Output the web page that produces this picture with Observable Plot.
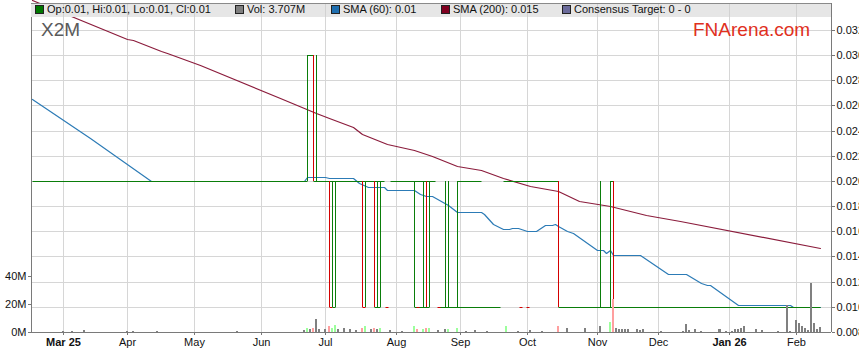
<!DOCTYPE html>
<html><head><meta charset="utf-8">
<script src="https://cdn.jsdelivr.net/npm/d3@7"></script>
<script src="https://cdn.jsdelivr.net/npm/@observablehq/plot@0.6"></script>
<style>
body{margin:0;background:#fff;font-family:"Liberation Sans",Arial,sans-serif;}
#wrap{position:relative;width:859px;height:363px;overflow:hidden;}
#wrap svg{position:absolute;left:0;top:0;}
#legend{position:absolute;left:31px;top:3px;width:801px;height:14px;background:#e6e6e6;border-top:1px solid #8a8a8a;box-sizing:border-box;}
.li{position:absolute;top:0px;font-size:11px;line-height:13px;color:#111;white-space:nowrap;}
.sw{position:absolute;top:2px;width:7px;height:7px;border:1px solid #222;}
#code{position:absolute;left:41px;top:19px;font-size:19px;color:#5a5a5a;}
#brand{position:absolute;left:693px;top:19px;font-size:19px;color:#e0301e;}
</style></head>
<body><div id="wrap"></div>
<script>
// ---------- data ----------
const tickDates = ["2025-03-03","2025-04-01","2025-05-01","2025-06-02","2025-07-01","2025-08-01","2025-09-01","2025-10-01","2025-11-03","2025-12-01","2026-01-01","2026-02-02"];
const tickLabels = ["Mar 25","Apr","May","Jun","Jul","Aug","Sep","Oct","Nov","Dec","Jan 26","Feb"];
const boldLabels = ["Mar 25","Jan 26"];
const priceTicks = [0.008,0.010,0.012,0.014,0.016,0.018,0.020,0.022,0.024,0.026,0.028,0.030,0.032];
const volTicks = [0, 20, 40]; // millions

// horizontal price levels (runs of daily open/close ticks): [from, to, price, direction]
const priceLevels = [
  ["2025-02-17","2025-06-23",0.02,"up"],
  ["2025-06-23","2025-06-25",0.03,"up"],
  ["2025-06-25","2025-07-28",0.02,"up"],
  ["2025-07-30","2025-08-20",0.02,"up"],
  ["2025-08-29","2025-09-10",0.02,"up"],
  ["2025-09-19","2025-10-15",0.02,"up"],
  ["2025-11-07","2025-11-10",0.02,"up"],
  ["2025-07-02","2025-07-03",0.01,"down"],
  ["2025-07-03","2025-07-04",0.01,"up"],
  ["2025-07-17","2025-07-18",0.01,"down"],
  ["2025-07-23","2025-07-25",0.01,"up"],
  ["2025-08-11","2025-08-18",0.01,"up"],
  ["2025-08-21","2025-09-18",0.01,"up"],
  ["2025-10-15","2026-02-12",0.01,"up"]
];
// single-day ticks: [date, price, direction]
const priceDayTicks = [
  ["2025-07-29",0.01,"down"],["2025-08-12",0.01,"down"],["2025-08-21",0.01,"down"],
  ["2025-09-29",0.01,"down"],["2025-10-01",0.01,"down"]
];
// daily high-low bars: [date, low, high, direction]
const priceBars = [
  ["2025-06-23",0.02,0.03,"up"],["2025-06-25",0.02,0.03,"down"],["2025-06-26",0.02,0.03,"up"],
  ["2025-07-02",0.01,0.02,"down"],["2025-07-03",0.01,0.02,"up"],["2025-07-04",0.01,0.02,"up"],
  ["2025-07-17",0.01,0.02,"down"],["2025-07-18",0.01,0.02,"up"],
  ["2025-07-23",0.01,0.02,"down"],["2025-07-24",0.01,0.02,"up"],["2025-07-25",0.01,0.02,"up"],
  ["2025-08-11",0.01,0.02,"up"],["2025-08-14",0.01,0.02,"up"],["2025-08-15",0.01,0.02,"down"],["2025-08-18",0.01,0.02,"up"],
  ["2025-08-25",0.01,0.02,"up"],["2025-08-26",0.01,0.02,"up"],["2025-08-29",0.01,0.02,"up"],
  ["2025-10-15",0.01,0.02,"down"],
  ["2025-11-04",0.01,0.02,"up"],["2025-11-07",0.01,0.02,"up"],["2025-11-10",0.01,0.02,"down"]
];

const sma60Dates = ["2025-02-17","2025-03-14","2025-04-11","2025-06-20","2025-06-23","2025-07-01","2025-07-02","2025-07-14","2025-07-16","2025-07-21","2025-07-28","2025-07-29","2025-08-11","2025-08-13","2025-08-15","2025-08-19","2025-08-26","2025-08-29","2025-09-10","2025-09-11","2025-09-16","2025-09-19","2025-09-23","2025-09-24","2025-09-26","2025-09-29","2025-10-01","2025-10-06","2025-10-09","2025-10-13","2025-10-14","2025-10-15","2025-10-20","2025-10-22","2025-11-03","2025-11-05","2025-11-06","2025-11-07","2025-11-10","2025-11-21","2025-12-04","2025-12-12","2025-12-19","2025-12-23","2025-12-24","2026-01-06","2026-01-29","2026-01-30","2026-02-12"];
const sma60Values = [0.0265,0.0234,0.0200,0.0200,0.0203,0.0203,0.0202,0.0202,0.0198,0.0195,0.0195,0.0193,0.0193,0.0190,0.0188,0.0188,0.0181,0.0175,0.0175,0.0174,0.0166,0.0162,0.0162,0.0163,0.0163,0.0162,0.0160,0.0160,0.0165,0.0165,0.0166,0.0164,0.0160,0.0159,0.0145,0.0145,0.0143,0.0145,0.0141,0.0141,0.0126,0.0126,0.0119,0.0117,0.0117,0.01015,0.01015,0.0100,0.0100];

const sma200Dates = ["2025-02-17","2025-04-01","2025-04-03","2025-04-16","2025-04-18","2025-05-05","2025-06-10","2025-06-20","2025-06-26","2025-07-02","2025-07-14","2025-07-17","2025-07-29","2025-08-11","2025-08-19","2025-08-29","2025-09-10","2025-09-19","2025-10-02","2025-10-15","2025-10-24","2025-11-07","2025-11-25","2025-12-10","2026-02-12"];
const sma200Values = [0.0344,0.0313,0.0312,0.03035,0.0302,0.0292,0.0266,0.0258,0.0254,0.0250,0.0243,0.0237,0.0229,0.0225,0.0220,0.0212,0.0209,0.0202,0.0196,0.0192,0.0184,0.0180,0.0173,0.0168,0.0147];

// volume (millions): dates, values, direction
const volDates = ["2025-03-03","2025-03-06","2025-03-12","2025-04-01","2025-04-03","2025-04-15","2025-05-21",
 "2025-06-20","2025-06-23","2025-06-24","2025-06-25","2025-06-26","2025-06-27","2025-07-01","2025-07-02","2025-07-03","2025-07-04","2025-07-07","2025-07-09","2025-07-11","2025-07-15","2025-07-17","2025-07-18","2025-07-22","2025-07-23","2025-07-24","2025-07-25","2025-07-30","2025-08-05","2025-08-11","2025-08-12","2025-08-14","2025-08-15","2025-08-18","2025-08-21","2025-08-25","2025-08-26","2025-08-29","2025-09-03","2025-09-08","2025-09-12","2025-09-22","2025-09-26","2025-10-02","2025-10-08",
 "2025-10-15","2025-10-20","2025-10-28","2025-11-04","2025-11-07","2025-11-10","2025-11-11","2025-11-12","2025-11-13","2025-11-14","2025-11-17","2025-11-20","2025-11-21","2025-11-24","2025-12-02","2025-12-11","2025-12-12","2025-12-15","2025-12-17","2025-12-19","2025-12-29","2025-12-31","2026-01-02","2026-01-05","2026-01-06","2026-01-07","2026-01-08","2026-01-14","2026-01-16","2026-01-23","2026-01-28","2026-01-29","2026-02-02","2026-02-03","2026-02-04","2026-02-05","2026-02-06","2026-02-09","2026-02-10","2026-02-11","2026-02-12"];
const volValues = [0.5,0.5,1.2,0.6,0.6,0.4,0.5,
 1.5,3,2,3,9,2,2,4,3,5,2,3,2,1.5,3,4,2,3,2,3,1.5,1,4,2,2,3,3,1.5,2,2,3,1,1.5,1,4.3,1,1.5,1,
 4.3,2.6,2.6,4.3,7.4,23.8,3.1,2.1,2.1,2.1,2.1,2.1,1.5,2.1,0.7,0.7,5.7,1.4,2.1,0.7,2.1,0.7,0.7,2.1,2.1,2.6,4.1,2.1,1.4,0.7,19.3,0.7,8.6,6.6,4.3,2.6,1.4,34.8,6.6,2.1,3.8];
const volDir = ["flat","flat","flat","flat","flat","flat","flat",
 "flat","up","flat","down","flat","flat","flat","down","up","up","flat","flat","flat","flat","down","up","flat","down","flat","up","flat","flat","up","down","up","down","up","flat","flat","up","up","flat","flat","flat","up","flat","flat","flat",
 "down","flat","flat","flat","up","down","flat","flat","flat","flat","flat","flat","flat","flat","flat","flat","flat","flat","flat","flat","flat","flat","flat","flat","flat","flat","flat","flat","flat","flat","flat","flat","flat","flat","flat","flat","flat","flat","flat","flat","flat"];

// ---------- trading-day axis ----------
const fmt = d3.utcFormat("%Y-%m-%d");
const days = d3.utcDay.range(new Date(Date.UTC(2025,1,17)), new Date(Date.UTC(2026,1,21)))
  .filter(d => d.getUTCDay() !== 0 && d.getUTCDay() !== 6);
const dayIndex = new Map(days.map((d, i) => [fmt(d), i]));
const X = s => dayIndex.get(s);
const xDomain = [-0.4, 261.5];
const yDomain = [0.008, 0.034142];
const bandBottom = 0.03303; // bottom edge of the legend strip, in price units
const tickIdx = tickDates.map(X);
const labelOf = new Map(tickIdx.map((t, i) => [t, tickLabels[i]]));
const normalIdx = tickIdx.filter(t => !boldLabels.includes(labelOf.get(t)));
const boldIdx = tickIdx.filter(t => boldLabels.includes(labelOf.get(t)));

const GREEN = "#0a7d0a", RED = "#d40000";
const dirColor = d => d === "down" ? RED : GREEN;
const volColor = d => d === "down" ? "#ff9f9f" : d === "up" ? "#9cff9c" : "#808080";

const sma60 = sma60Dates.map((d, i) => ({x: X(d), y: sma60Values[i]}));
const sma200 = sma200Dates.map((d, i) => ({x: X(d), y: sma200Values[i]}));
const vols = volDates.map((d, i) => ({x: X(d), v: volValues[i] * 1e6, dir: volDir[i]}));

const common = {width: 859, height: 363, marginLeft: 31, marginRight: 28, marginTop: 3, marginBottom: 31};
const font = {fontFamily: "Liberation Sans, Arial, sans-serif", fontSize: "11px", color: "#111", overflow: "visible"};

const pricePlot = Plot.plot({
  ...common,
  style: {...font, background: "white"},
  x: {domain: xDomain, round: true, axis: null},
  y: {domain: yDomain, round: true, axis: null},
  marks: [
    Plot.gridY(priceTicks, {stroke: "#d6d6d6", strokeOpacity: 1}),
    Plot.gridX(tickIdx, {stroke: "#d6d6d6", strokeOpacity: 1}),
    Plot.axisY(priceTicks, {anchor: "right", label: null, tickFormat: d3.format(".3f"), tickSize: 3, tickPadding: 2, stroke: "#777", fill: "#111"}),
    Plot.axisX(normalIdx, {anchor: "bottom", label: null, tickFormat: t => labelOf.get(t), tickSize: 3, tickPadding: 3, stroke: "#777", fill: "#111"}),
    Plot.axisX(boldIdx, {anchor: "bottom", label: null, tickFormat: t => labelOf.get(t), tickSize: 3, tickPadding: 3, stroke: "#777", fill: "#111", fontWeight: "bold"}),
    Plot.ruleY([yDomain[0]], {stroke: "#7a7a7a"}),
    Plot.ruleX(xDomain, {stroke: "#7a7a7a"}),
    Plot.line(sma200, {x: "x", y: "y", stroke: "#8b1c3c", strokeWidth: 1.2}),
    Plot.line(sma60, {x: "x", y: "y", stroke: "#2c7bb6", strokeWidth: 1.2}),
    Plot.link(priceLevels, {x1: d => X(d[0]), x2: d => X(d[1]), y1: d => d[2], y2: d => d[2], stroke: d => dirColor(d[3]), strokeWidth: 1}),
    Plot.link(priceDayTicks, {x1: d => X(d[0]) - 0.5, x2: d => X(d[0]) + 0.5, y1: d => d[1], y2: d => d[1], stroke: d => dirColor(d[2]), strokeWidth: 1}),
    Plot.ruleX(priceBars, {x: d => X(d[0]), y1: d => d[1], y2: d => d[2], stroke: d => dirColor(d[3]), strokeWidth: 1})
  ]
});

const volPlot = Plot.plot({
  ...common,
  style: {...font, background: "transparent"},
  x: {domain: xDomain, round: true, axis: null},
  y: {domain: [0, 235e6], round: true, axis: null},
  marks: [
    Plot.axisY(volTicks.map(v => v * 1e6), {anchor: "left", label: null, tickFormat: v => (v / 1e6) + "M", tickSize: 3, tickPadding: 2, stroke: "#777", fill: "#111"}),
    Plot.rect(vols, {x1: d => d.x - 0.33, x2: d => d.x + 0.33, y1: 0, y2: "v", fill: d => volColor(d.dir)})
  ]
});

// grid lines showing through the legend strip
const bandGrid = Plot.plot({
  ...common,
  style: {...font, background: "transparent"},
  x: {domain: xDomain, round: true, axis: null},
  y: {domain: yDomain, round: true, axis: null},
  marks: [
    Plot.ruleX(tickIdx, {y1: bandBottom, y2: yDomain[1] - 0.00004, stroke: "#d2d2d2"}),
    Plot.ruleX([xDomain[1]], {y1: bandBottom, y2: yDomain[1], stroke: "#7a7a7a"})
  ]
});

const wrap = document.getElementById("wrap");
wrap.appendChild(pricePlot);
wrap.appendChild(volPlot);

const legend = document.createElement("div");
legend.id = "legend";
wrap.appendChild(legend);
wrap.appendChild(bandGrid);
const items = [
  [35, "#007700", "Op:0.01, Hi:0.01, Lo:0.01, Cl:0.01"],
  [235, "#7f7f7f", "Vol: 3.707M"],
  [331, "#1f6fb0", "SMA (60): 0.01"],
  [441, "#800020", "SMA (200): 0.015"],
  [562, "#6b6b9b", "Consensus Target: 0 - 0"]
];
const legendItems = document.createElement("div");
legendItems.style.cssText = "position:absolute;left:31px;top:3px;width:801px;height:14px;";
for (const [x, c, t] of items) {
  const sw = document.createElement("div");
  sw.className = "sw"; sw.style.left = (x - 31) + "px"; sw.style.background = c;
  const tx = document.createElement("div");
  tx.className = "li"; tx.style.left = (x - 31 + 12) + "px"; tx.textContent = t;
  legendItems.appendChild(sw); legendItems.appendChild(tx);
}
wrap.appendChild(legendItems);
const code = document.createElement("div"); code.id = "code"; code.textContent = "X2M"; wrap.appendChild(code);
const brand = document.createElement("div"); brand.id = "brand"; brand.textContent = "FNArena.com"; wrap.appendChild(brand);
</script>
</body></html>
